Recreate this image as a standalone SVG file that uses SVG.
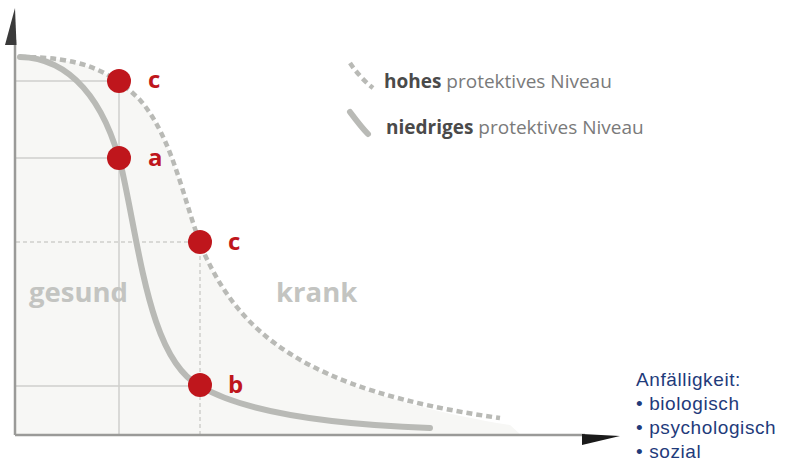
<svg xmlns="http://www.w3.org/2000/svg" width="791" height="464" viewBox="0 0 791 464">
<style>
.grid{stroke:#cfcfcc;stroke-width:1.5;fill:none}
.gdash{stroke:#cfcfcc;stroke-width:1.5;fill:none;stroke-dasharray:4 3}
.axis{stroke:#9a9a98;stroke-width:2.5;fill:none}
.solid{stroke:#b9bab6;stroke-width:6;fill:none;stroke-linecap:round}
.dash{stroke:#b9bab6;stroke-width:4.5;fill:none;stroke-dasharray:6 4}
.dot{fill:#bf161c}
.lbl{font-family:"Open Sans","Noto Sans",sans-serif;font-weight:bold;font-size:24px;fill:#bf161c}
.zone{font-family:"Open Sans","Noto Sans",sans-serif;font-weight:bold;font-size:27.5px;fill:#c3c4c1}
.leg{font-family:"Open Sans","Noto Sans",sans-serif;font-size:19px;fill:#7a7a7a}
.legb{font-weight:bold;fill:#4a4a4a}
.blue{font-family:"Liberation Sans",Arial,sans-serif;font-size:19px;letter-spacing:0.6px;fill:#1f3b7b}
</style>
<rect width="791" height="464" fill="#ffffff"/>
<g id="background">
<path d="M16,57 C80,57 110,70 140,100 C175,140 185,210 205,255 C240,330 300,390 510,425 L520,434 L16,434 Z" fill="#f7f7f5"/>
</g>
<g id="grid">
<line class="grid" x1="16" y1="81" x2="119" y2="81"/>
<line class="grid" x1="16" y1="158" x2="119" y2="158"/>
<line class="grid" x1="119" y1="81" x2="119" y2="434"/>
<line class="gdash" x1="16" y1="242" x2="200" y2="242"/>
<line class="gdash" x1="200" y1="242" x2="200" y2="434"/>
<line class="grid" x1="16" y1="386" x2="200" y2="386"/>
</g>
<g id="axes">
<line class="axis" x1="15" y1="40" x2="15" y2="435"/>
<polygon points="15,8 16.5,45 5,45" fill="#3a3a3a"/>
<line class="axis" x1="15" y1="435" x2="585" y2="435"/>
<polygon points="582,434 620,436 582,445" fill="#1a1a1a"/>
</g>
<g id="connectors">
<path id="curve-low" class="solid" d="M20,57 C70,58 105,100 122,170 C140,250 150,360 200,386 C240,410 320,424 430,428"/>
<path id="curve-high" class="dash" d="M20,57 C80,57 110,70 140,100 C175,140 185,210 205,255 C240,330 300,390 500,418"/>
</g>
<g id="zones">
<text class="zone" x="29" y="302">gesund</text>
<text class="zone" x="276" y="302">krank</text>
</g>
<g id="point-c1"><circle class="dot" cx="119" cy="81" r="12"/><text class="lbl" x="148" y="88">c</text></g>
<g id="point-a"><circle class="dot" cx="119" cy="158" r="12"/><text class="lbl" x="148" y="166">a</text></g>
<g id="point-c2"><circle class="dot" cx="200" cy="242" r="12"/><text class="lbl" x="228" y="250">c</text></g>
<g id="point-b"><circle class="dot" cx="200" cy="385" r="12"/><text class="lbl" x="228" y="393">b</text></g>
<g id="legend">
<path class="dash" d="M350,63 C356,72 364,81 373,88"/>
<path class="solid" d="M350,112 C356,120 362,128 368,134"/>
<text class="leg" x="384" y="88"><tspan class="legb">hohes</tspan> protektives Niveau</text>
<text class="leg" x="386" y="134"><tspan class="legb">niedriges</tspan> protektives Niveau</text>
</g>
<g id="anfaelligkeit">
<text class="blue" x="636" y="386">Anfälligkeit:</text>
<text class="blue" x="636" y="410">• biologisch</text>
<text class="blue" x="636" y="434">• psychologisch</text>
<text class="blue" x="636" y="458">• sozial</text>
</g>
</svg>
